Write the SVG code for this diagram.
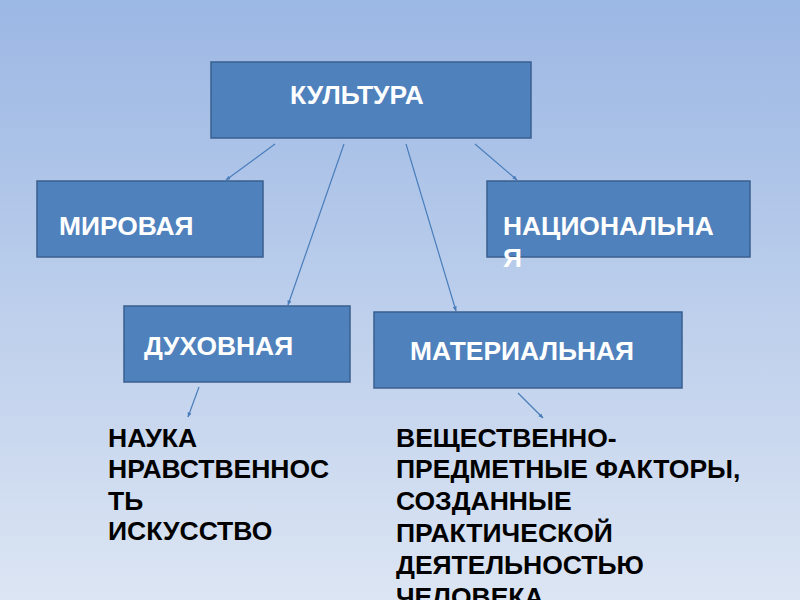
<svg xmlns="http://www.w3.org/2000/svg" width="800" height="600" viewBox="0 0 800 600">
<defs>
<linearGradient id="bg" x1="0" y1="0" x2="0" y2="1">
<stop offset="0" stop-color="#9bb7e4"/>
<stop offset="1" stop-color="#dce5f3"/>
</linearGradient>
<marker id="ah" viewBox="0 0 10 10" refX="9" refY="5" markerWidth="5" markerHeight="5" orient="auto" markerUnits="userSpaceOnUse">
<path d="M0,1 L10,5 L0,9 z" fill="#4a7ebb"/>
</marker>
<style>
.box{fill:#4f81bd;stroke:#3a5f8f;stroke-width:1.5}
.wt{fill:#ffffff;font-family:"Liberation Sans",Arial,sans-serif;font-weight:bold;font-size:26.4px}
.bt{fill:#000000;font-family:"Liberation Sans",Arial,sans-serif;font-weight:bold;font-size:26.5px}
.ln{stroke:#4a7ebb;stroke-width:1.2;fill:none;marker-end:url(#ah)}
</style>
</defs>
<rect x="0" y="0" width="800" height="600" fill="url(#bg)"/>
<g id="connectors">
<line class="ln" x1="275" y1="144" x2="226" y2="180"/>
<line class="ln" x1="344" y1="144" x2="288" y2="305"/>
<line class="ln" x1="406" y1="144" x2="456" y2="311"/>
<line class="ln" x1="475" y1="144" x2="517" y2="180"/>
<line class="ln" x1="199" y1="387" x2="188" y2="417"/>
<line class="ln" x1="518" y1="393" x2="543" y2="418"/>
</g>
<g id="kultura">
<rect class="box" x="211" y="62" width="320" height="76"/>
<text class="wt" x="290" y="104">КУЛЬТУРА</text>
</g>
<g id="mirovaya">
<rect class="box" x="37" y="181" width="226" height="76"/>
<text class="wt" x="59" y="235">МИРОВАЯ</text>
</g>
<g id="nacionalnaya">
<rect class="box" x="487" y="181" width="263" height="76"/>
<text class="wt" x="503" y="235">НАЦИОНАЛЬНА</text>
<text class="wt" x="503" y="267">Я</text>
</g>
<g id="duhovnaya">
<rect class="box" x="124" y="306" width="226" height="76"/>
<text class="wt" x="144" y="355">ДУХОВНАЯ</text>
</g>
<g id="materialnaya">
<rect class="box" x="374" y="312" width="308" height="76"/>
<text class="wt" x="410" y="360">МАТЕРИАЛЬНАЯ</text>
</g>
<g id="duh-text">
<text class="bt" x="108" y="447">НАУКА</text>
<text class="bt" x="108" y="478">НРАВСТВЕННОС</text>
<text class="bt" x="108" y="510">ТЬ</text>
<text class="bt" x="108" y="540">ИСКУССТВО</text>
</g>
<g id="mat-text">
<text class="bt" x="396" y="447">ВЕЩЕСТВЕННО-</text>
<text class="bt" x="396" y="478">ПРЕДМЕТНЫЕ ФАКТОРЫ,</text>
<text class="bt" x="396" y="510">СОЗДАННЫЕ</text>
<text class="bt" x="396" y="542">ПРАКТИЧЕСКОЙ</text>
<text class="bt" x="396" y="574">ДЕЯТЕЛЬНОСТЬЮ</text>
<text class="bt" x="396" y="606">ЧЕЛОВЕКА</text>
</g>
</svg>
